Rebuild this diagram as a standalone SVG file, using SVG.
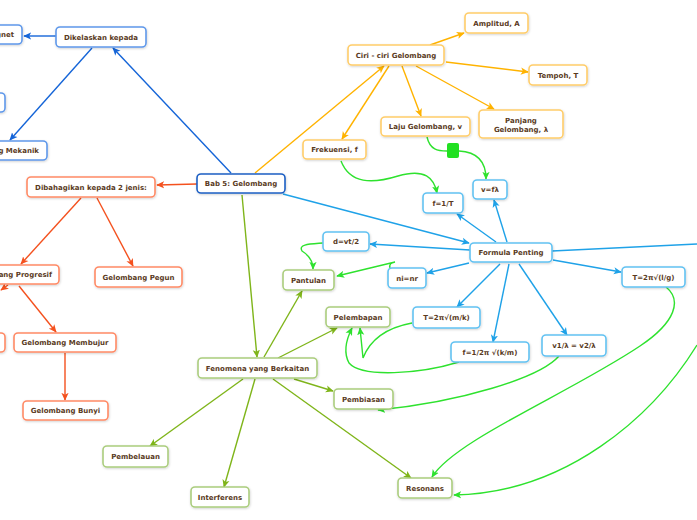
<svg xmlns="http://www.w3.org/2000/svg" width="697" height="520" viewBox="0 0 697 520">
<defs>
<filter id="sh" x="-20%" y="-30%" width="140%" height="170%"><feDropShadow dx="0.5" dy="1" stdDeviation="0.8" flood-color="#000" flood-opacity="0.18"/></filter>
<marker id="aB" viewBox="0 0 10 10" refX="9" refY="5" markerWidth="8" markerHeight="8" orient="auto" markerUnits="userSpaceOnUse"><path d="M0,0.5 L10,5 L0,9.5 L2.5,5 z" fill="#1565d8"/></marker>
<marker id="aO" viewBox="0 0 10 10" refX="9" refY="5" markerWidth="8" markerHeight="8" orient="auto" markerUnits="userSpaceOnUse"><path d="M0,0.5 L10,5 L0,9.5 L2.5,5 z" fill="#f4511e"/></marker>
<marker id="aY" viewBox="0 0 10 10" refX="9" refY="5" markerWidth="8" markerHeight="8" orient="auto" markerUnits="userSpaceOnUse"><path d="M0,0.5 L10,5 L0,9.5 L2.5,5 z" fill="#ffb300"/></marker>
<marker id="aL" viewBox="0 0 10 10" refX="9" refY="5" markerWidth="8" markerHeight="8" orient="auto" markerUnits="userSpaceOnUse"><path d="M0,0.5 L10,5 L0,9.5 L2.5,5 z" fill="#1fa2e8"/></marker>
<marker id="aG" viewBox="0 0 10 10" refX="9" refY="5" markerWidth="8" markerHeight="8" orient="auto" markerUnits="userSpaceOnUse"><path d="M0,0.5 L10,5 L0,9.5 L2.5,5 z" fill="#7fb51a"/></marker>
<marker id="aV" viewBox="0 0 10 10" refX="9" refY="5" markerWidth="8" markerHeight="8" orient="auto" markerUnits="userSpaceOnUse"><path d="M0,0.5 L10,5 L0,9.5 L2.5,5 z" fill="#2ee22e"/></marker>
</defs>
<style>
rect.n{fill:#fff;stroke-width:1.6;filter:url(#sh)}
.db{stroke:#5f98ea}
.dbm{stroke:#1d5fc4}
.or{stroke:#ff8a65}
.ye{stroke:#ffcd6a}
.lb{stroke:#62c2f2}
.ol{stroke:#abcd7e}
text{font-family:"DejaVu Sans","Verdana",sans-serif;font-weight:bold;font-size:7px;fill:#5a3b1e;text-anchor:middle}
text.e{text-anchor:end}
.c path,.c line{fill:none;stroke-width:1.4}
.cb{stroke:#1565d8}
.co{stroke:#f4511e}
.cy{stroke:#ffb300}
.cl{stroke:#1fa2e8}
.cg{stroke:#7fb51a}
.cv{stroke:#2ee22e}
</style>
<g class="c" id="connectors">
<line class="cb" x1="231" y1="173" x2="113" y2="48" marker-end="url(#aB)"/>
<line class="cb" x1="56" y1="36" x2="24" y2="36" marker-end="url(#aB)"/>
<line class="cb" x1="92" y1="48" x2="10" y2="140" marker-end="url(#aB)"/>
<line class="co" x1="197" y1="184" x2="157" y2="185" marker-end="url(#aO)"/>
<line class="co" x1="81" y1="198" x2="21" y2="264" marker-end="url(#aO)"/>
<line class="co" x1="97" y1="198" x2="133" y2="266" marker-end="url(#aO)"/>
<line class="co" x1="19" y1="286" x2="56" y2="332" marker-end="url(#aO)"/>
<line class="co" x1="8" y1="285" x2="1" y2="290" marker-end="url(#aO)"/>
<line class="co" x1="65" y1="353" x2="65" y2="400" marker-end="url(#aO)"/>
<line class="cy" x1="255" y1="173" x2="384" y2="66" marker-end="url(#aY)"/>
<line class="cy" x1="389" y1="66" x2="342" y2="139" marker-end="url(#aY)"/>
<line class="cy" x1="402" y1="66" x2="421" y2="116" marker-end="url(#aY)"/>
<line class="cy" x1="430" y1="45" x2="464" y2="33" marker-end="url(#aY)"/>
<line class="cy" x1="446" y1="62" x2="528" y2="72" marker-end="url(#aY)"/>
<line class="cy" x1="416" y1="66" x2="494" y2="109" marker-end="url(#aY)"/>
<line class="cl" x1="283" y1="194" x2="469" y2="243" marker-end="url(#aL)"/>
<line class="cl" x1="470" y1="250" x2="370" y2="244" marker-end="url(#aL)"/>
<line class="cl" x1="552" y1="251" x2="697" y2="244"/>
<line class="cl" x1="496" y1="242" x2="457" y2="214" marker-end="url(#aL)"/>
<line class="cl" x1="507" y1="242" x2="494" y2="200" marker-end="url(#aL)"/>
<line class="cl" x1="469" y1="263" x2="427" y2="273" marker-end="url(#aL)"/>
<line class="cl" x1="500" y1="264" x2="457" y2="307" marker-end="url(#aL)"/>
<line class="cl" x1="509" y1="264" x2="493" y2="342" marker-end="url(#aL)"/>
<line class="cl" x1="519" y1="264" x2="567" y2="335" marker-end="url(#aL)"/>
<line class="cl" x1="553" y1="260" x2="621" y2="272" marker-end="url(#aL)"/>
<line class="cg" x1="242" y1="195" x2="257" y2="357" marker-end="url(#aG)"/>
<line class="cg" x1="264" y1="357" x2="302" y2="291" marker-end="url(#aG)"/>
<line class="cg" x1="278" y1="358" x2="337" y2="328" marker-end="url(#aG)"/>
<line class="cg" x1="294" y1="379" x2="333" y2="391" marker-end="url(#aG)"/>
<line class="cg" x1="243" y1="379" x2="150" y2="446" marker-end="url(#aG)"/>
<line class="cg" x1="255" y1="379" x2="224" y2="487" marker-end="url(#aG)"/>
<line class="cg" x1="273" y1="379" x2="411" y2="478" marker-end="url(#aG)"/>
<path class="cv" d="M341,161 C350,184 372,184 398,176 C425,168 434,178 437,193" marker-end="url(#aV)"/>
<path class="cv" d="M427,137 C430,150 438,151 447,151"/>
<rect x="447" y="143" width="12" height="15" rx="2" fill="#22e022"/>
<path class="cv" d="M459,151 C478,152 486,162 486,179" marker-end="url(#aV)"/>
<path class="cv" d="M323,243 C310,244 298,244 302,251 C310,256 313,262 313,269" marker-end="url(#aV)"/>
<path class="cv" d="M390,268 C389,264 391,263 395,262 L337,276" marker-end="url(#aV)"/>
<path class="cv" d="M412,323 C385,328 370,340 363,358 L360,328" marker-end="url(#aV)"/>
<path class="cv" d="M459,362 C420,374 362,378 349,363 C343,352 347,338 352,328" marker-end="url(#aV)"/>
<path class="cv" d="M559,356 C540,378 460,402 378,410" marker-end="url(#aV)"/>
<path class="cv" d="M666,287 C682,300 676,322 640,346 C570,393 455,440 432,477" marker-end="url(#aV)"/>
<path class="cv" d="M697,345 C652,418 565,493 454,495" marker-end="url(#aV)"/>
</g>
<g id="n-bab5"><rect class="n dbm" x="197" y="174" width="88" height="19" rx="4"/><text x="241" y="186">Bab 5: Gelombang</text></g>
<g id="n-dikelaskan"><rect class="n db" x="56" y="27" width="90" height="20" rx="4"/><text x="101" y="39.5">Dikelaskan kepada</text></g>
<g id="n-elektromagnet"><rect class="n db" x="-100" y="25" width="122" height="19" rx="4"/><text class="e" x="14" y="37">Gelombang Elektromagnet</text></g>
<g id="n-blue2"><rect class="n db" x="-100" y="93" width="105" height="19" rx="4"/></g>
<g id="n-mekanik"><rect class="n db" x="-80" y="141" width="127" height="19" rx="4"/><text class="e" x="39" y="153">Gelombang Mekanik</text></g>
<g id="n-dibahagikan"><rect class="n or" x="27" y="177" width="128" height="20" rx="4"/><text x="91" y="189.5">Dibahagikan kepada 2 jenis:</text></g>
<g id="n-progresif"><rect class="n or" x="-80" y="265" width="139" height="19" rx="4"/><text class="e" x="52" y="277">Gelombang Progresif</text></g>
<g id="n-pegun"><rect class="n or" x="95" y="267" width="87" height="20" rx="4"/><text x="138.5" y="279.5">Gelombang Pegun</text></g>
<g id="n-melintang"><rect class="n or" x="-100" y="333" width="105" height="19" rx="4"/></g>
<g id="n-membujur"><rect class="n or" x="14" y="333" width="102" height="19" rx="4"/><text x="65" y="345">Gelombang Membujur</text></g>
<g id="n-bunyi"><rect class="n or" x="23" y="401" width="85" height="19" rx="4"/><text x="65.5" y="413">Gelombang Bunyi</text></g>
<g id="n-ciri"><rect class="n ye" x="348" y="45" width="96" height="20" rx="4"/><text x="396" y="57.5">Ciri - ciri Gelombang</text></g>
<g id="n-amplitud"><rect class="n ye" x="465" y="13" width="63" height="20" rx="4"/><text x="496.5" y="25.5">Amplitud, A</text></g>
<g id="n-tempoh"><rect class="n ye" x="529" y="65" width="58" height="20" rx="4"/><text x="558" y="77.5">Tempoh, T</text></g>
<g id="n-panjang"><rect class="n ye" x="479" y="110" width="84" height="28" rx="4"/><text x="521" y="122.5">Panjang</text><text x="521" y="131.5">Gelombang, λ</text></g>
<g id="n-laju"><rect class="n ye" x="381" y="117" width="89" height="19" rx="4"/><text x="425.5" y="129">Laju Gelombang, v</text></g>
<g id="n-frekuensi"><rect class="n ye" x="303" y="140" width="63" height="19" rx="4"/><text x="334.5" y="152">Frekuensi, f</text></g>
<g id="n-vfl"><rect class="n lb" x="473" y="180" width="34" height="19" rx="4"/><text x="490" y="192">v=fλ</text></g>
<g id="n-f1t"><rect class="n lb" x="423" y="193" width="40" height="20" rx="4"/><text x="443" y="205.5">f=1/T</text></g>
<g id="n-formula"><rect class="n lb" x="470" y="243" width="82" height="19" rx="4"/><text x="511" y="255">Formula Penting</text></g>
<g id="n-tlg"><rect class="n lb" x="622" y="267" width="63" height="20" rx="4"/><text x="653.5" y="279.5">T=2π√(l/g)</text></g>
<g id="n-tmk"><rect class="n lb" x="413" y="307" width="67" height="21" rx="4"/><text x="446.5" y="320">T=2π√(m/k)</text></g>
<g id="n-f12"><rect class="n lb" x="451" y="342" width="78" height="20" rx="4"/><text x="490" y="354.5">f=1/2π √(k/m)</text></g>
<g id="n-v1"><rect class="n lb" x="542" y="335" width="64" height="21" rx="4"/><text x="574" y="348">v1/λ = v2/λ</text></g>
<g id="n-ninr"><rect class="n lb" x="388" y="268" width="38" height="20" rx="4"/><text x="407" y="280.5">ni=nr</text></g>
<g id="n-dvt"><rect class="n lb" x="323" y="232" width="46" height="19" rx="4"/><text x="346" y="244">d=vt/2</text></g>
<g id="n-fenomena"><rect class="n ol" x="198" y="358" width="119" height="20" rx="4"/><text x="257.5" y="370.5">Fenomena yang Berkaitan</text></g>
<g id="n-pantulan"><rect class="n ol" x="283" y="270" width="51" height="20" rx="4"/><text x="308.5" y="282.5">Pantulan</text></g>
<g id="n-pelembapan"><rect class="n ol" x="326" y="307" width="64" height="20" rx="4"/><text x="358" y="319.5">Pelembapan</text></g>
<g id="n-pembiasan"><rect class="n ol" x="334" y="389" width="59" height="20" rx="4"/><text x="363.5" y="401.5">Pembiasan</text></g>
<g id="n-pembelauan"><rect class="n ol" x="103" y="446" width="65" height="21" rx="4"/><text x="135.5" y="459">Pembelauan</text></g>
<g id="n-interferens"><rect class="n ol" x="191" y="487" width="58" height="20" rx="4"/><text x="220" y="499.5">Interferens</text></g>
<g id="n-resonans"><rect class="n ol" x="398" y="478" width="54" height="20" rx="4"/><text x="425" y="490.5">Resonans</text></g>
</svg>
